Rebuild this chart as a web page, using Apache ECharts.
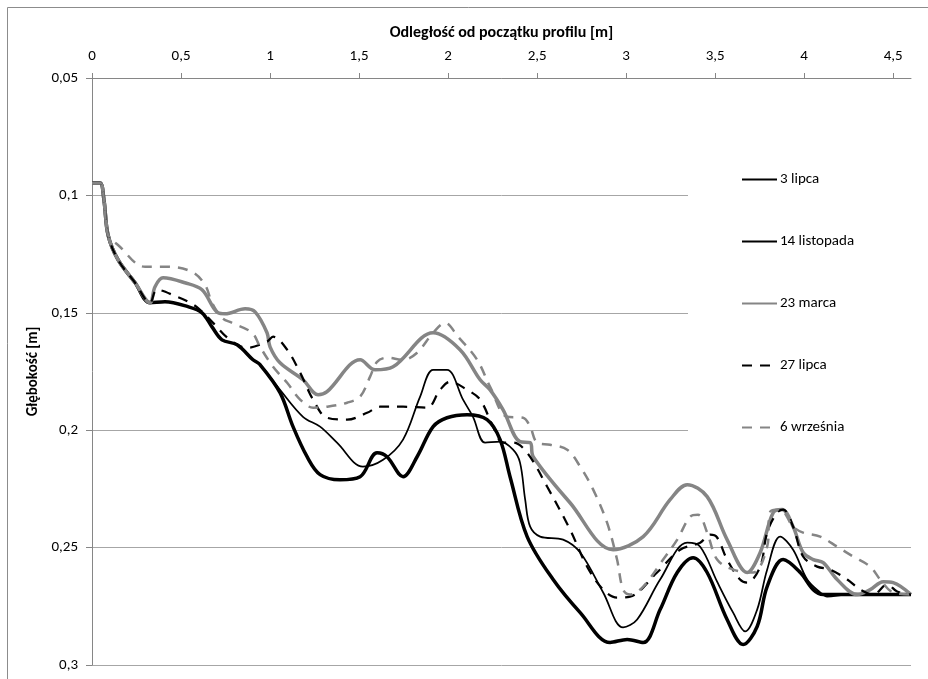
<!DOCTYPE html>
<html>
<head>
<meta charset="utf-8">
<script src="https://cdn.jsdelivr.net/npm/echarts@6/dist/echarts.min.js"></script>
<style>html,body{margin:0;padding:0;background:#fff}#c{width:928px;height:679px}</style>
</head>
<body>
<div id="c"></div>
<script>
const seriesNames = ['3 lipca', '14 listopada', '23 marca', '27 lipca', '6 września'];
const xTicks = [0, 0.5, 1, 1.5, 2, 2.5, 3, 3.5, 4, 4.5];
const yTicks = [0.05, 0.1, 0.15, 0.2, 0.25, 0.3];

const lipca3 = [[0,0.0947],[0.045,0.0947],[0.067,0.1019],[0.09,0.1168],[0.146,0.1274],[0.242,0.1372],[0.326,0.1457],[0.41,0.1453],[0.539,0.1474],[0.618,0.15],[0.674,0.156],[0.73,0.1615],[0.815,0.1636],[0.904,0.17],[0.944,0.1721],[1.056,0.1828],[1.185,0.1943],[1.281,0.1985],[1.376,0.2053],[1.522,0.2155],[1.635,0.2126],[1.747,0.204],[1.843,0.1857],[1.916,0.1743],[1.994,0.1743],[2.084,0.187],[2.14,0.1943],[2.208,0.2053],[2.292,0.2049],[2.365,0.2083],[2.404,0.2138],[2.433,0.2296],[2.461,0.2411],[2.517,0.2453],[2.646,0.2466],[2.742,0.2521],[2.871,0.2691],[2.983,0.284],[3.062,0.2806],[3.191,0.2636],[3.343,0.2479],[3.416,0.2496],[3.511,0.2645],[3.601,0.2777],[3.669,0.2857],[3.736,0.2764],[3.792,0.2594],[3.865,0.2453],[3.938,0.2509],[4.017,0.2636],[4.09,0.2691],[4.129,0.2709],[4.242,0.27],[4.6,0.27]];

const listopada14 = [[0,0.0947],[0.045,0.0947],[0.067,0.1019],[0.09,0.1168],[0.146,0.1274],[0.242,0.1372],[0.326,0.1457],[0.41,0.1453],[0.539,0.1474],[0.618,0.15],[0.674,0.156],[0.73,0.1615],[0.815,0.1636],[0.904,0.17],[0.944,0.1721],[1.056,0.184],[1.129,0.1985],[1.208,0.2113],[1.281,0.2189],[1.393,0.2211],[1.506,0.2198],[1.601,0.2096],[1.657,0.2113],[1.747,0.2198],[1.826,0.2113],[1.916,0.1985],[1.994,0.1947],[2.107,0.1934],[2.219,0.1955],[2.292,0.204],[2.348,0.2198],[2.444,0.2453],[2.59,0.2636],[2.742,0.2777],[2.91,0.2904],[3.006,0.2891],[3.096,0.2904],[3.191,0.2764],[3.287,0.2606],[3.376,0.2543],[3.455,0.2606],[3.567,0.2806],[3.657,0.2913],[3.736,0.2836],[3.792,0.2666],[3.882,0.2551],[3.978,0.2606],[4.051,0.2679],[4.107,0.27],[4.6,0.27]];

const marca23 = [[0,0.0947],[0.045,0.0947],[0.067,0.1019],[0.09,0.1168],[0.146,0.1274],[0.242,0.1372],[0.326,0.1457],[0.354,0.1389],[0.399,0.1351],[0.522,0.1372],[0.618,0.1402],[0.708,0.15],[0.747,0.1504],[0.86,0.1483],[0.916,0.1496],[0.983,0.1585],[1.0,0.1645],[1.056,0.1713],[1.185,0.1785],[1.27,0.1849],[1.32,0.1836],[1.506,0.17],[1.59,0.1743],[1.691,0.173],[1.916,0.1585],[2.067,0.1657],[2.18,0.1785],[2.236,0.1828],[2.309,0.1913],[2.404,0.2049],[2.461,0.2053],[2.478,0.2113],[2.685,0.2309],[2.927,0.2509],[3.096,0.2453],[3.247,0.2296],[3.343,0.2232],[3.455,0.2283],[3.567,0.2466],[3.68,0.2606],[3.753,0.2521],[3.826,0.2351],[3.876,0.2338],[3.938,0.2411],[3.994,0.2521],[4.051,0.2551],[4.107,0.2564],[4.185,0.2636],[4.298,0.27],[4.371,0.2679],[4.444,0.2645],[4.5,0.2649],[4.6,0.27]];

const lipca27 = [[0,0.0947],[0.045,0.0947],[0.067,0.1019],[0.09,0.1168],[0.146,0.1274],[0.242,0.1372],[0.326,0.1457],[0.365,0.1402],[0.478,0.1432],[0.551,0.1457],[0.607,0.1487],[0.68,0.1543],[0.775,0.1615],[0.871,0.1649],[0.983,0.1623],[1.017,0.1602],[1.096,0.1657],[1.169,0.1755],[1.242,0.187],[1.32,0.1947],[1.433,0.1955],[1.545,0.1926],[1.618,0.19],[1.747,0.19],[1.882,0.1904],[1.955,0.1828],[2.011,0.1794],[2.107,0.1828],[2.18,0.187],[2.253,0.1985],[2.309,0.2053],[2.365,0.2053],[2.444,0.2096],[2.556,0.224],[2.685,0.2423],[2.781,0.2581],[2.871,0.2679],[2.949,0.2713],[3.022,0.2709],[3.174,0.2606],[3.303,0.2509],[3.416,0.2479],[3.472,0.2445],[3.511,0.2457],[3.567,0.2551],[3.64,0.2636],[3.68,0.2649],[3.753,0.2581],[3.792,0.2436],[3.848,0.2351],[3.882,0.2338],[3.938,0.2411],[3.994,0.2538],[4.073,0.2581],[4.146,0.2594],[4.242,0.2636],[4.315,0.2679],[4.388,0.27],[4.466,0.2657],[4.522,0.2687],[4.6,0.27]];

const wrzesnia6 = [[0,0.0947],[0.045,0.0947],[0.067,0.1019],[0.09,0.1168],[0.146,0.1211],[0.298,0.1304],[0.427,0.1304],[0.562,0.1326],[0.635,0.1381],[0.674,0.1457],[0.73,0.1521],[0.787,0.1543],[0.899,0.1585],[0.944,0.1645],[1.017,0.173],[1.096,0.1798],[1.169,0.187],[1.242,0.1904],[1.32,0.19],[1.433,0.1883],[1.506,0.1857],[1.562,0.1772],[1.601,0.1709],[1.657,0.1691],[1.747,0.17],[1.826,0.167],[1.916,0.1585],[1.983,0.1543],[2.056,0.1602],[2.163,0.17],[2.236,0.1815],[2.331,0.1943],[2.421,0.1947],[2.461,0.1985],[2.5,0.2053],[2.573,0.2062],[2.669,0.2083],[2.742,0.2155],[2.815,0.2253],[2.893,0.2394],[2.949,0.2551],[2.983,0.2679],[3.022,0.27],[3.096,0.2666],[3.208,0.2551],[3.287,0.2466],[3.36,0.2368],[3.404,0.236],[3.455,0.2436],[3.511,0.2551],[3.601,0.2594],[3.713,0.2606],[3.792,0.2496],[3.809,0.2347],[3.865,0.2338],[3.938,0.2411],[3.994,0.2436],[4.09,0.2453],[4.185,0.2496],[4.275,0.2538],[4.371,0.2581],[4.427,0.2636],[4.5,0.2691],[4.6,0.27]];

const FONT = 'Carlito, Calibri, Lato, sans-serif';
const fmt = v => String(Number(v.toFixed(2))).replace('.', ',');
const black = '#000000', grey = '#858585';

const chart = echarts.init(document.getElementById('c'), null, {renderer: 'canvas'});
chart.setOption({
  backgroundColor: '#ffffff',
  animation: false,
  textStyle: {fontFamily: FONT},
  graphic: [{
    type: 'rect', z: -10, silent: true,
    shape: {x: 7.5, y: 7.5, width: 960, height: 720},
    style: {fill: 'none', stroke: '#8c8c8c', lineWidth: 1}
  }],
  grid: {left: 92, right: 17, top: 78, bottom: 14, containLabel: false},
  legend: {
    orient: 'vertical',
    left: 688, top: 100,
    padding: [72, 160, 30, 53],
    backgroundColor: '#ffffff',
    itemWidth: 35, itemHeight: 14, itemGap: 47,
    itemStyle: {color: 'rgba(0,0,0,0)', borderWidth: 0, borderColor: 'rgba(0,0,0,0)'},
    textStyle: {fontFamily: FONT, fontSize: 15, color: '#000', lineHeight: 14, padding: [0,0,0,-2]},
    data: seriesNames
  },
  xAxis: {
    type: 'value', position: 'top', min: 0, max: 4.6, interval: 0.5,
    name: 'Odległość od początku profilu [m]', nameLocation: 'middle', nameGap: 37,
    nameTextStyle: {fontFamily: FONT, fontWeight: 'bold', fontSize: 16, color: '#000'},
    axisLine: {show: true, lineStyle: {color: '#868686', width: 1}},
    axisTick: {show: true, inside: false, length: 5, lineStyle: {color: '#868686'}, customValues: xTicks},
    axisLabel: {margin: 14, fontSize: 15, color: '#000', fontFamily: FONT, formatter: fmt, customValues: xTicks},
    splitLine: {show: false}
  },
  yAxis: {
    type: 'value', inverse: true, min: 0.05, max: 0.3, interval: 0.05,
    name: 'Głębokość [m]', nameLocation: 'middle', nameGap: 50, nameRotate: 90,
    nameTextStyle: {fontFamily: FONT, fontWeight: 'bold', fontSize: 15, color: '#000'},
    axisLine: {show: true, lineStyle: {color: '#868686', width: 1}},
    axisTick: {show: true, inside: false, length: 6, lineStyle: {color: '#868686'}, customValues: yTicks},
    axisLabel: {margin: 14, fontSize: 15, color: '#000', fontFamily: FONT, formatter: fmt, customValues: yTicks},
    splitLine: {show: true, lineStyle: {color: '#a6a6a6', width: 1}}
  },
  series: [
    {name: seriesNames[0], type: 'line', data: lipca3, smooth: 0.35, symbol: 'none',
     lineStyle: {color: black, width: 1.75}, itemStyle: {color: black}},
    {name: seriesNames[1], type: 'line', data: listopada14, smooth: 0.35, symbol: 'none',
     lineStyle: {color: black, width: 3.5}, itemStyle: {color: black}},
    {name: seriesNames[2], type: 'line', data: marca23, smooth: 0.35, symbol: 'none',
     lineStyle: {color: grey, width: 3.5}, itemStyle: {color: grey}},
    {name: seriesNames[3], type: 'line', data: lipca27, smooth: 0.35, symbol: 'none',
     lineStyle: {color: black, width: 2.25, type: [10, 8]}, itemStyle: {color: black}},
    {name: seriesNames[4], type: 'line', data: wrzesnia6, smooth: 0.35, symbol: 'none',
     lineStyle: {color: grey, width: 2.5, type: [10, 8]}, itemStyle: {color: grey}}
  ]
});
</script>
</body>
</html>
